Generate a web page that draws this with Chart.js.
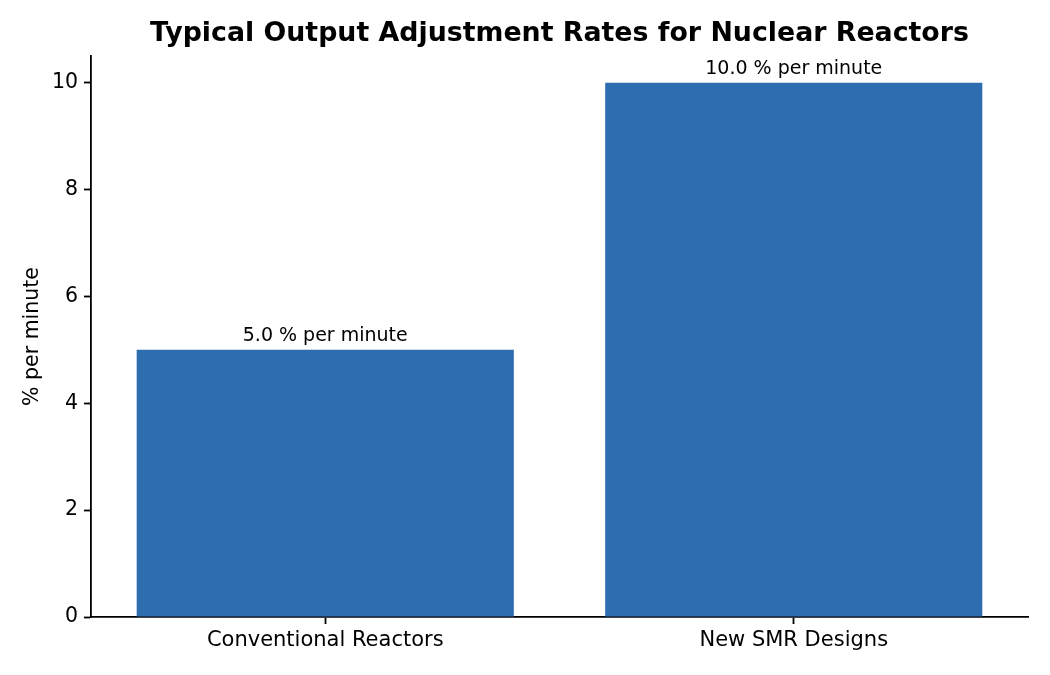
<!DOCTYPE html>
<html>
<head>
<meta charset="utf-8">
<script src="https://cdn.jsdelivr.net/npm/chart.js@4"></script>
<style>
  html, body { margin: 0; padding: 0; background: #ffffff; }
  #wrap { width: 1050px; height: 675px; }
</style>
</head>
<body>
<div id="wrap"><canvas id="chart" width="1050" height="675"></canvas></div>
<script>
// chart data
const CATEGORIES = ['Conventional Reactors', 'New SMR Designs'];
const RATES = [5.0, 10.0];
const Y_TICKS = [0, 2, 4, 6, 8, 10];
const UNIT = '% per minute';
const TITLE = 'Typical Output Adjustment Rates for Nuclear Reactors';

const BAR_COLOR = '#2e6db0';
const FONT = "'DejaVu Sans', sans-serif";

// value labels above each bar, title centred over the plot area
const barLabels = {
    id: 'barLabels',
    afterDatasetsDraw(chart) {
        const ctx = chart.ctx;
        const area = chart.chartArea;
        const meta = chart.getDatasetMeta(0);
        ctx.save();
        ctx.fillStyle = '#000';
        ctx.textAlign = 'center';
        ctx.textBaseline = 'bottom';
        ctx.font = '19px ' + FONT;
        meta.data.forEach((bar, i) => {
            ctx.fillText(RATES[i].toFixed(1) + ' ' + UNIT, bar.x, bar.y - 4);
        });
        ctx.font = 'bold 26.8px ' + FONT;
        ctx.textBaseline = 'middle';
        ctx.fillText(TITLE, (area.left + area.right) / 2, 34);
        ctx.restore();
    },
};

new Chart(document.getElementById('chart'), {
    type: 'bar',
    data: {
        labels: CATEGORIES,
        datasets: [{
            data: RATES,
            backgroundColor: BAR_COLOR,
            borderWidth: 0,
            barPercentage: 0.805,
            categoryPercentage: 1.0,
        }],
    },
    options: {
        responsive: false,
        animation: false,
        devicePixelRatio: 1,
        layout: { padding: { left: 0, right: 22, top: 56, bottom: 0 } },
        plugins: {
            legend: { display: false },
            tooltip: { enabled: false },
            title: { display: false },
        },
        scales: {
            x: {
                offset: true,
                grid: { drawOnChartArea: false, drawTicks: true, tickLength: 7, tickWidth: 1.8, color: '#000', offset: false },
                border: { color: '#000', width: 1.8 },
                ticks: { color: '#000', font: { family: FONT, size: 21 }, padding: 4 },
                afterFit(scale) { scale.height = 58; },
            },
            y: {
                min: 0,
                max: 10.5,
                grid: { drawOnChartArea: false, drawTicks: true, tickLength: 7, tickWidth: 1.8, color: '#000' },
                border: { color: '#000', width: 1.8 },
                ticks: { color: '#000', font: { family: FONT, size: 20.5 }, padding: 6 },
                afterBuildTicks(scale) { scale.ticks = Y_TICKS.map(v => ({ value: v })); },
                title: {
                    display: true,
                    text: UNIT,
                    color: '#000',
                    font: { family: FONT, size: 20.5 },
                    padding: { top: 20, bottom: 0 },
                },
                afterFit(scale) { scale.width = 91; },
            },
        },
    },
    plugins: [barLabels],
});
</script>
</body>
</html>
